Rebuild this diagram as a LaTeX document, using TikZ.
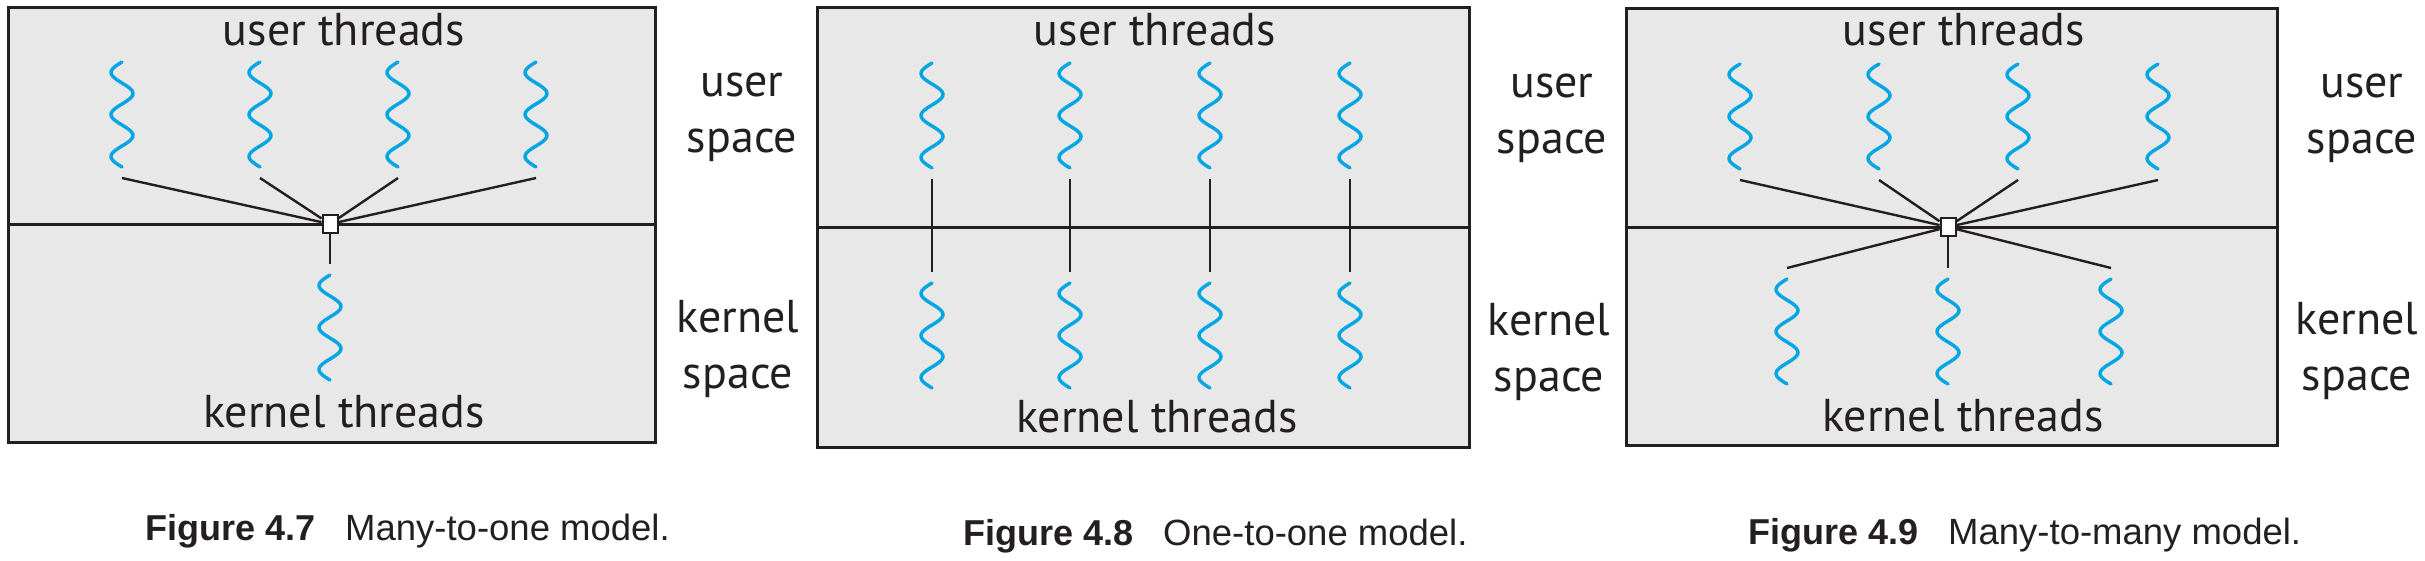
\documentclass[tikz,border=0pt]{standalone}
\usepackage{fontspec}
\setmainfont{PT Sans}
\newfontfamily\capfont{Liberation Sans}
\usepackage{tikz}
\usetikzlibrary{positioning}
\definecolor{threadblue}{RGB}{0,166,228}
\definecolor{boxgray}{RGB}{232,232,232}
\definecolor{inkblack}{RGB}{35,31,32}

\begin{document}
\begin{tikzpicture}[x=1pt, y=-1pt,
		thread/.pic={
			\draw[threadblue, line width=3.4pt, line cap=round] plot[variable=\t, domain=0:105, samples=61] ({-11*sin(8.5714*\t)}, {\t});
			\coordinate (-top) at (0,-11);
			\coordinate (-bot) at (0,116);
		},
		spacebox/.style={draw=inkblack, fill=boxgray, line width=3pt},
		divider/.style={draw=inkblack, line width=3pt},
		link/.style={draw=inkblack, line width=2.4pt},
		mux/.style={draw=inkblack, fill=white, line width=2pt, minimum width=15pt, minimum height=18pt, inner sep=0pt},
		label/.style={font=\fontsize{46}{56}\selectfont, text=inkblack, inner sep=0pt, anchor=base},
		side/.style={label, align=center},
		capnum/.style={font=\capfont\bfseries\fontsize{36}{44}\selectfont, text=inkblack, inner sep=0pt, anchor=base west},
		captext/.style={font=\capfont\fontsize{36.5}{44}\selectfont, text=inkblack, inner sep=0pt, anchor=base west}]
	\useasboundingbox (0,0) rectangle (2425,560);

	% many-to-one
	\draw[spacebox] (8,7) rectangle (655,442);
	\draw[divider] (8,224) -- (655,224);
	\node[label] (ut1) at (344,45) {user threads};
	\node[label] (kt1) at (344,427) {kernel threads};
	\pic (u11) at (122,62) {thread};
	\pic (u12) at (260,62) {thread};
	\pic (u13) at (398,62) {thread};
	\pic (u14) at (536,62) {thread};
	\pic (k11) at (330,275) {thread};
	\node[mux] (mux1) at (330,224) {};
	\draw[link] (u11-bot) -- (mux1);
	\draw[link] (u12-bot) -- (mux1);
	\draw[link] (u13-bot) -- (mux1);
	\draw[link] (u14-bot) -- (mux1);
	\draw[link] (mux1) -- (k11-top);
	% side labels sit on the baseline of their last line
	\node[side] (us1) at (742,152) {user\\space};
	\node[side] (ks1) at (738,388) {kernel\\space};
	\node[capnum] (fig1) at (145,540) {Figure 4.7};
	\node[captext] (cap1) at (345,540) {Many-to-one model.};

	% one-to-one
	\draw[spacebox] (817,7) rectangle (1469,447);
	\draw[divider] (817,227) -- (1469,227);
	\node[label] (ut2) at (1155,45) {user threads};
	\node[label] (kt2) at (1157,432) {kernel threads};
	\pic (u21) at (932,63) {thread};
	\pic (u22) at (1070,63) {thread};
	\pic (u23) at (1210,63) {thread};
	\pic (u24) at (1350,63) {thread};
	\pic (k21) at (932,283) {thread};
	\pic (k22) at (1070,283) {thread};
	\pic (k23) at (1210,283) {thread};
	\pic (k24) at (1350,283) {thread};
	\draw[link] (u21-bot) -- (k21-top);
	\draw[link] (u22-bot) -- (k22-top);
	\draw[link] (u23-bot) -- (k23-top);
	\draw[link] (u24-bot) -- (k24-top);
	\node[side] (us2) at (1552,153) {user\\space};
	\node[side] (ks2) at (1549,391) {kernel\\space};
	\node[capnum] (fig2) at (963,545) {Figure 4.8};
	\node[captext] (cap2) at (1163,545) {One-to-one model.};

	% many-to-many
	\draw[spacebox] (1626,8) rectangle (2277,445);
	\draw[divider] (1626,227) -- (2277,227);
	\node[label] (ut3) at (1964,45) {user threads};
	\node[label] (kt3) at (1963,431) {kernel threads};
	\pic (u31) at (1740,64) {thread};
	\pic (u32) at (1879,64) {thread};
	\pic (u33) at (2018,64) {thread};
	\pic (u34) at (2158,64) {thread};
	\pic (k31) at (1787,279) {thread};
	\pic (k32) at (1948,279) {thread};
	\pic (k33) at (2111,279) {thread};
	\node[mux] (mux3) at (1948,227) {};
	\draw[link] (u31-bot) -- (mux3);
	\draw[link] (u32-bot) -- (mux3);
	\draw[link] (u33-bot) -- (mux3);
	\draw[link] (u34-bot) -- (mux3);
	\draw[link] (mux3) -- (k31-top);
	\draw[link] (mux3) -- (k32-top);
	\draw[link] (mux3) -- (k33-top);
	\node[side] (us3) at (2362,153) {user\\space};
	\node[side] (ks3) at (2357,390) {kernel\\space};
	\node[capnum] (fig3) at (1748,544) {Figure 4.9};
	\node[captext] (cap3) at (1948,544) {Many-to-many model.};
\end{tikzpicture}
\end{document}
